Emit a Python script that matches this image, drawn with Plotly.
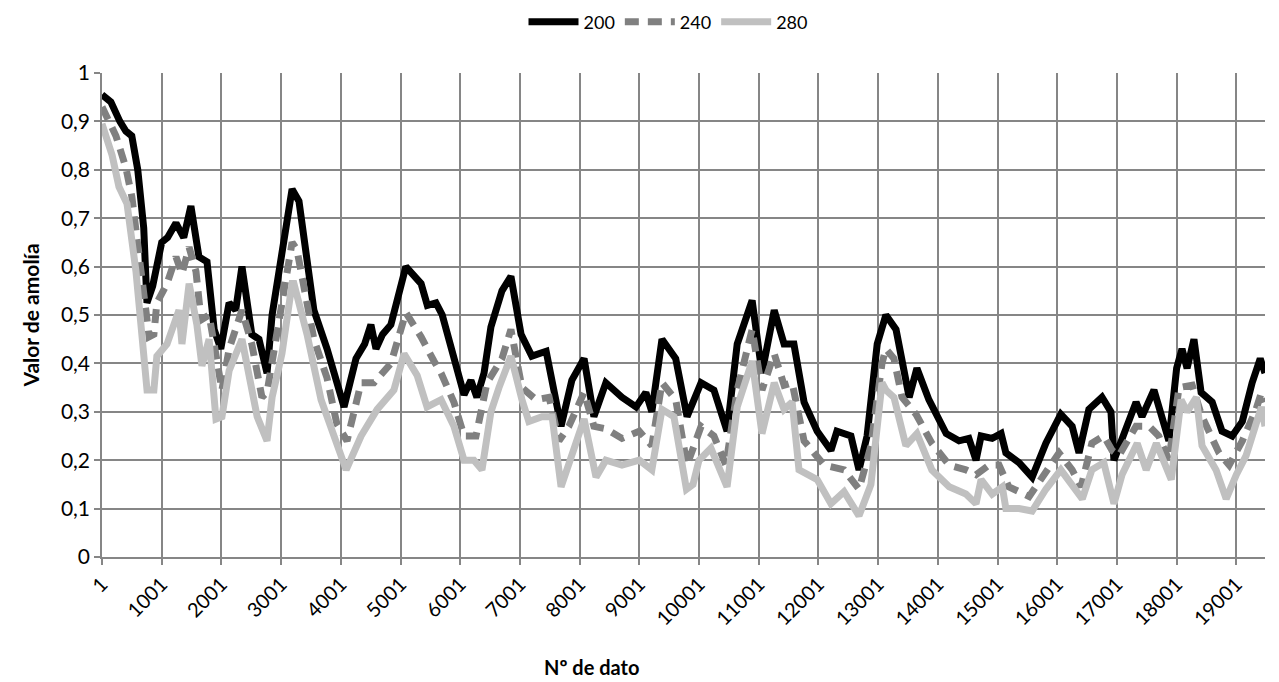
import plotly.graph_objects as go

# Series 200
idx_200 = [1, 150, 300, 400, 500, 600, 700, 754, 850, 1001, 1100, 1240, 1370, 1490, 1625, 1760, 1880, 1990,
           2130, 2240, 2345, 2510, 2630, 2765, 2850, 3050, 3185, 3300, 3400, 3550, 3770, 3940, 4055, 4255,
           4400, 4505, 4590, 4700, 4840, 5090, 5200, 5345, 5450, 5595, 5700, 5845, 6065, 6180, 6280, 6400,
           6515, 6700, 6850, 7020, 7200, 7440, 7600, 7690, 7870, 8075, 8240, 8440, 8710, 8945, 9110, 9210,
           9380, 9610, 9800, 10035, 10250, 10470, 10640, 10890, 11055, 11260, 11425, 11590, 11760, 11980,
           12210, 12310, 12545, 12680, 12815, 12985, 13130, 13300, 13520, 13650, 13850, 14140, 14355, 14520,
           14640, 14725, 14910, 15060, 15140, 15360, 15580, 15810, 16060, 16250, 16365, 16530, 16750, 16900,
           16950, 17085, 17320, 17420, 17620, 17870, 18000, 18090, 18175, 18290, 18410, 18595, 18760, 18930,
           19100, 19265, 19400, 19480]
val_200 = [0.955, 0.94, 0.90, 0.88, 0.87, 0.80, 0.68, 0.525, 0.56, 0.65, 0.66, 0.69, 0.66, 0.725, 0.62, 0.61, 0.47, 0.43,
           0.525, 0.51, 0.60, 0.46, 0.45, 0.38, 0.50, 0.65, 0.76, 0.735, 0.65, 0.51, 0.43, 0.36, 0.31, 0.41,
           0.44, 0.48, 0.43, 0.46, 0.48, 0.60, 0.585, 0.565, 0.52, 0.525, 0.50, 0.435, 0.335, 0.365, 0.33, 0.38,
           0.475, 0.55, 0.58, 0.46, 0.415, 0.425, 0.325, 0.27, 0.365, 0.41, 0.29, 0.36, 0.33, 0.31, 0.34, 0.30,
           0.45, 0.41, 0.29, 0.36, 0.345, 0.26, 0.44, 0.53, 0.38, 0.51, 0.44, 0.44, 0.32, 0.26,
           0.22, 0.26, 0.25, 0.18, 0.25, 0.44, 0.50, 0.47, 0.33, 0.39, 0.325, 0.255, 0.24, 0.245,
           0.20, 0.25, 0.245, 0.255, 0.215, 0.195, 0.165, 0.235, 0.295, 0.27, 0.215, 0.305, 0.33, 0.30,
           0.20, 0.245, 0.32, 0.29, 0.345, 0.24, 0.39, 0.43, 0.39, 0.45, 0.34, 0.32, 0.26, 0.25,
           0.28, 0.36, 0.41, 0.38]

# Series 240
idx_240 = [1, 235, 400, 500, 655, 790, 870, 920, 1090, 1240, 1340, 1460, 1575, 1660, 1795, 1910, 2010, 2130,
           2345, 2510, 2680, 2765, 2965, 3185, 3265, 3335, 3550, 3770, 3935, 4105, 4340, 4555, 4840, 5090,
           5345, 5560, 5680, 5895, 6065, 6265, 6450, 6700, 6850, 7035, 7270, 7490, 7655, 7820, 8075, 8240,
           8440, 8710, 9000, 9210, 9380, 9610, 9800, 10035, 10250, 10450, 10640, 10890, 11055, 11260, 11425,
           11560, 11760, 12095, 12430, 12680, 12880, 13065, 13130, 13265, 13400, 13635, 13900, 14190, 14470,
           14640, 14860, 15025, 15190, 15530, 15810, 16030, 16250, 16400, 16580, 16780, 16920, 17035, 17320,
           17540, 17700, 17870, 18040, 18260, 18425, 18710, 18880, 19100, 19330, 19420, 19480]
val_240 = [0.93, 0.87, 0.805, 0.745, 0.59, 0.455, 0.46, 0.525, 0.565, 0.62, 0.585, 0.64, 0.59, 0.49, 0.50, 0.415, 0.345, 0.43,
           0.51, 0.44, 0.33, 0.34, 0.48, 0.65, 0.635, 0.59, 0.45, 0.37, 0.275, 0.24, 0.36, 0.36, 0.40, 0.505,
           0.455, 0.405, 0.38, 0.32, 0.25, 0.25, 0.36, 0.41, 0.47, 0.35, 0.325, 0.33, 0.24, 0.27, 0.34, 0.27,
           0.265, 0.245, 0.26, 0.23, 0.36, 0.325, 0.19, 0.27, 0.25, 0.19, 0.345, 0.47, 0.345, 0.42, 0.355,
           0.36, 0.24, 0.19, 0.18, 0.14, 0.23, 0.40, 0.43, 0.41, 0.33, 0.295, 0.235, 0.19, 0.18,
           0.17, 0.19, 0.19, 0.145, 0.125, 0.175, 0.215, 0.18, 0.145, 0.235, 0.25, 0.22, 0.21, 0.27,
           0.27, 0.25, 0.20, 0.35, 0.355, 0.29, 0.215, 0.19, 0.24, 0.305, 0.34, 0.32]

# Series 280
idx_280 = [1, 170, 285, 420, 570, 670, 755, 870, 920, 1090, 1290, 1340, 1460, 1590, 1675, 1795, 1910, 2010,
           2130, 2345, 2460, 2600, 2765, 2850, 3015, 3185, 3215, 3435, 3670, 3890, 4090, 4340, 4610, 4890,
           5060, 5280, 5445, 5680, 5895, 6065, 6230, 6365, 6515, 6650, 6850, 7035, 7150, 7370, 7540, 7690,
           7820, 8075, 8275, 8440, 8710, 9000, 9210, 9380, 9580, 9790, 9900, 10000, 10200, 10470, 10640,
           10890, 11055, 11260, 11425, 11560, 11675, 11980, 12210, 12430, 12680, 12880, 13065, 13130, 13265,
           13465, 13650, 13900, 14190, 14470, 14640, 14725, 14910, 15080, 15140, 15360, 15580, 15810, 16060,
           16300, 16420, 16580, 16780, 16950, 17085, 17340, 17490, 17660, 17910, 18075, 18175, 18330, 18425,
           18660, 18830, 19000, 19165, 19330, 19420, 19480]
val_280 = [0.895, 0.83, 0.765, 0.73, 0.59, 0.44, 0.345, 0.345, 0.415, 0.44, 0.51, 0.44, 0.565, 0.48, 0.395, 0.45, 0.285, 0.29,
           0.385, 0.45, 0.385, 0.29, 0.24, 0.33, 0.42, 0.565, 0.565, 0.46, 0.325, 0.25, 0.18, 0.25, 0.305, 0.345,
           0.42, 0.375, 0.31, 0.325, 0.27, 0.20, 0.20, 0.18, 0.30, 0.35, 0.415, 0.325, 0.28, 0.29, 0.29, 0.145,
           0.19, 0.285, 0.165, 0.20, 0.19, 0.20, 0.18, 0.305, 0.29, 0.14, 0.15, 0.20, 0.225, 0.145, 0.31,
           0.405, 0.255, 0.36, 0.305, 0.32, 0.18, 0.16, 0.11, 0.135, 0.085, 0.15, 0.36, 0.345, 0.33,
           0.23, 0.255, 0.18, 0.145, 0.13, 0.11, 0.16, 0.13, 0.145, 0.10, 0.10, 0.095, 0.14, 0.18,
           0.14, 0.12, 0.18, 0.195, 0.11, 0.17, 0.235, 0.18, 0.235, 0.16, 0.325, 0.30, 0.33, 0.23,
           0.18, 0.12, 0.17, 0.21, 0.275, 0.31, 0.27]

tick_vals = [1, 1001, 2001, 3001, 4001, 5001, 6001, 7001, 8001, 9001, 10001,
             11001, 12001, 13001, 14001, 15001, 16001, 17001, 18001, 19001]
tick_text = [str(v) for v in tick_vals]

FONT = "Lato, 'Open Sans', sans-serif"
GRID = "#868686"
W, H = 1271, 674

fig = go.Figure()
fig.add_trace(go.Scatter(x=idx_200, y=val_200, name="200", mode="lines",
                         line=dict(color="#000000", width=7)))
fig.add_trace(go.Scatter(x=idx_240, y=val_240, name="240", mode="lines",
                         line=dict(color="#808080", width=7, dash="14px,9px")))
fig.add_trace(go.Scatter(x=idx_280, y=val_280, name="280", mode="lines",
                         line=dict(color="#C0C0C0", width=7)))

fig.update_layout(
    width=W, height=H,
    margin=dict(l=94, r=14, t=65, b=125, autoexpand=False),
    paper_bgcolor="white", plot_bgcolor="white",
    separators=",.",
    font=dict(family=FONT, color="#000000", size=20),
    showlegend=True,
    legend=dict(orientation="h", x=660 / W, xanchor="center", xref="container",
                y=1 - 14 / H, yanchor="middle", yref="container",
                font=dict(size=18), traceorder="normal", itemwidth=50),
    annotations=[dict(text="<b>Nº de dato</b>", x=0.4213, xref="paper",
                      y=-0.227, yref="paper", xanchor="center", yanchor="middle",
                      showarrow=False, font=dict(size=20))],
)
fig.update_xaxes(
    range=[1, 19480], tickvals=tick_vals, ticktext=tick_text, tickangle=-45,
    showgrid=True, gridcolor=GRID, gridwidth=1.5,
    showline=True, linecolor=GRID, linewidth=1.5,
    ticks="outside", ticklen=6, tickcolor=GRID, tickwidth=1.5,
    tickfont=dict(size=20), zeroline=False, automargin=False,
)
fig.update_yaxes(
    range=[0, 1], dtick=0.1, tick0=0,
    showgrid=True, gridcolor=GRID, gridwidth=1.5,
    showline=True, linecolor=GRID, linewidth=1.5,
    ticks="outside", ticklen=6, tickcolor=GRID, tickwidth=1.5,
    tickfont=dict(size=21), zeroline=False, automargin=False,
    title=dict(text="<b>Valor de amolía</b>", font=dict(size=21), standoff=16),
)

fig.write_html("out.html")
